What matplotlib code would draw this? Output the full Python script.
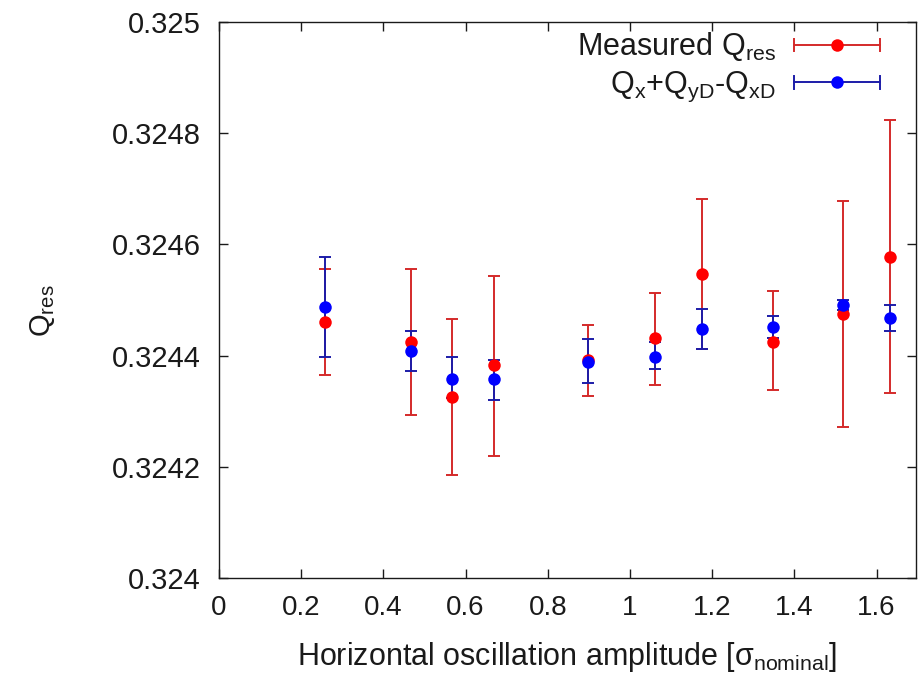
import matplotlib
matplotlib.use("Agg")
import matplotlib.pyplot as plt
from matplotlib.lines import Line2D
from matplotlib.legend_handler import HandlerBase

# Horizontal oscillation amplitude [sigma_nominal]
amplitude = [0.258, 0.467, 0.566, 0.670, 0.897, 1.062, 1.175, 1.347, 1.519, 1.632]

# Measured resonance tune with error range (low, high)
q_meas = [0.32446, 0.324425, 0.324326, 0.324383, 0.324392, 0.324431, 0.324546, 0.324424, 0.324474, 0.324578]
q_meas_lo = [0.324365, 0.324293, 0.324185, 0.32422, 0.324328, 0.324347, 0.324412, 0.324339, 0.324271, 0.324332]
q_meas_hi = [0.324555, 0.324555, 0.324466, 0.324544, 0.324455, 0.324512, 0.324681, 0.324516, 0.324678, 0.324824]

# Qx + QyD - QxD with error range (low, high)
q_calc = [0.324488, 0.324408, 0.324358, 0.324357, 0.324389, 0.324398, 0.324448, 0.324452, 0.324491, 0.324468]
q_calc_lo = [0.3243975, 0.324372, 0.324324, 0.324321, 0.32435, 0.324375, 0.324412, 0.324432, 0.324482, 0.324444]
q_calc_hi = [0.324577, 0.324444, 0.324398, 0.324392, 0.324429, 0.324424, 0.324483, 0.324472, 0.3245, 0.324491]

x_ticks = [0, 0.2, 0.4, 0.6, 0.8, 1.0, 1.2, 1.4, 1.6]
x_tick_labels = ["0", "0.2", "0.4", "0.6", "0.8", "1", "1.2", "1.4", "1.6"]
y_ticks = [0.324, 0.3242, 0.3244, 0.3246, 0.3248, 0.325]
y_tick_labels = ["0.324", "0.3242", "0.3244", "0.3246", "0.3248", "0.325"]

plt.rcParams["font.family"] = ["Liberation Sans", "DejaVu Sans"]
plt.rcParams["mathtext.fontset"] = "custom"
plt.rcParams["mathtext.rm"] = "Liberation Sans"
plt.rcParams["mathtext.it"] = "Liberation Sans"
plt.rcParams["mathtext.bf"] = "Liberation Sans"

TEXT = "#1a1a1a"
RED_DOT = "#ff0000"
RED_BAR = "#d42a2a"
BLUE_DOT = "#0000ff"
BLUE_BAR = "#1c1ca8"
FS = 21

fig = plt.figure(figsize=(9.19, 6.78), dpi=100)
ax = fig.add_axes([0.2383, 0.1475, 0.9967 - 0.2383, 0.9676 - 0.1475])


def draw_series(y, lo, hi, bar_color, dot_color):
    yerr = [[v - l for v, l in zip(y, lo)], [h - v for v, h in zip(y, hi)]]
    ax.errorbar(amplitude, y, yerr=yerr, fmt="none", ecolor=bar_color,
                elinewidth=1.4, capsize=4, capthick=1.4, zorder=2)
    ax.plot(amplitude, y, "o", color=dot_color, markersize=9,
            markeredgewidth=0, zorder=3)


draw_series(q_meas, q_meas_lo, q_meas_hi, RED_BAR, RED_DOT)
draw_series(q_calc, q_calc_lo, q_calc_hi, BLUE_BAR, BLUE_DOT)

ax.set_xlim(0, 1.696)
ax.set_ylim(0.324, 0.325)
ax.set_xticks(x_ticks)
ax.set_xticklabels(x_tick_labels)
ax.set_yticks(y_ticks)
ax.set_yticklabels(y_tick_labels)
ax.tick_params(direction="in", length=6.5, width=1.0, top=True, right=True,
               colors=TEXT)
ax.tick_params(axis="x", pad=12, labelsize=20)
ax.tick_params(axis="y", pad=13, labelsize=FS)
for sp in ax.spines.values():
    sp.set_linewidth(1.0)
    sp.set_color(TEXT)

ax.set_xlabel(r"Horizontal oscillation amplitude [$\sigma_{\rm nominal}$]",
              fontsize=FS + 1, color=TEXT)
ax.xaxis.set_label_coords(0.5, -0.112)
ax.set_ylabel(r"Q$_{\rm res}$", fontsize=FS, color=TEXT)
ax.yaxis.set_label_coords(-0.232, 0.48)


class ErrSample:
    def __init__(self, bar_color, dot_color):
        self.bar_color = bar_color
        self.dot_color = dot_color


class HandlerCapLine(HandlerBase):
    def create_artists(self, legend, orig_handle, xdescent, ydescent,
                       width, height, fontsize, trans):
        x0 = -xdescent
        x1 = width - xdescent
        y = height / 2.0 - ydescent
        cap = 0.2 * fontsize
        c = orig_handle.bar_color
        arts = [
            Line2D([x0, x1], [y, y], color=c, lw=1.4),
            Line2D([x0, x0], [y - cap, y + cap], color=c, lw=1.4),
            Line2D([x1, x1], [y - cap, y + cap], color=c, lw=1.4),
            Line2D([(x0 + x1) / 2.0], [y], marker="o", markersize=9,
                   markeredgewidth=0, color=orig_handle.dot_color, lw=0),
        ]
        for a in arts:
            a.set_transform(trans)
        return arts


handles = [ErrSample(RED_BAR, RED_DOT), ErrSample(BLUE_BAR, BLUE_DOT)]
labels = [r"Measured Q$_{\rm res}$", r"Q$_{\rm x}$+Q$_{\rm yD}$-Q$_{\rm xD}$"]
leg = ax.legend(handles, labels, handler_map={ErrSample: HandlerCapLine()},
                loc="upper right", bbox_to_anchor=(0.948, 0.985),
                frameon=False, markerfirst=False, handlelength=2.8,
                handletextpad=0.6, labelspacing=0.22, fontsize=FS + 1,
                borderpad=0, borderaxespad=0)
for t in leg.get_texts():
    t.set_color(TEXT)

fig.savefig("out.png", dpi=100, facecolor="white")
